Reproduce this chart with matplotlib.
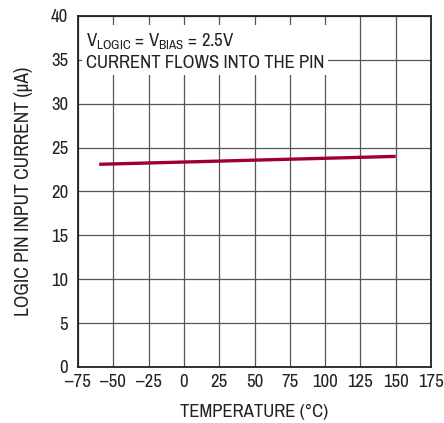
import matplotlib
matplotlib.use("Agg")
import matplotlib.pyplot as plt
from matplotlib import font_manager

names = {f.name for f in font_manager.fontManager.ttflist}
fam = "Liberation Sans"
for c in ["Liberation Sans Narrow", "Archivo Narrow", "Roboto Condensed"]:
    if c in names:
        fam = c
        break
plt.rcParams['font.family'] = [fam, 'DejaVu Sans']
plt.rcParams['mathtext.fontset'] = 'custom'
plt.rcParams['mathtext.rm'] = fam

temperature = [-60, 150]
current = [23.1, 24.0]
xticks = [-75, -50, -25, 0, 25, 50, 75, 100, 125, 150, 175]
yticks = [0, 5, 10, 15, 20, 25, 30, 35, 40]

FS = 13.5
fig = plt.figure(figsize=(4.44, 4.23), dpi=100)
ax = fig.add_axes([0.1757, 0.1324, 0.795, 0.8298])
ax.set_xlim(-75, 175)
ax.set_ylim(0, 40)
ax.set_xticks(xticks)
ax.set_xticklabels([str(t).replace('-', '\u2013') for t in xticks])
ax.set_yticks(yticks)
ax.grid(True, color='#555555', linewidth=0.9)
ax.tick_params(axis='x', length=0, labelsize=FS, pad=5, colors='#222222')
ax.tick_params(axis='y', length=0, labelsize=FS, pad=7, colors='#222222')
for s in ax.spines.values():
    s.set_linewidth(1.3)
    s.set_color('#222222')
ax.set_axisbelow(True)

ax.plot(temperature, current, color='#a0002e', linewidth=2.4, solid_capstyle='butt', zorder=3)

ax.set_xlabel('TEMPERATURE (\u00b0C)', fontsize=FS, color='#222222', labelpad=10)
ax.set_ylabel('LOGIC PIN INPUT CURRENT (\u00b5A)', fontsize=14, color='#222222', labelpad=13)

ax.text(-69.5, 38.2, r'V$_{\mathregular{LOGIC}}$ = V$_{\mathregular{BIAS}}$ = 2.5V' + '\nCURRENT FLOWS INTO THE PIN',
        fontsize=FS, va='top', ha='left', color='#222222', linespacing=1.2,
        bbox=dict(facecolor='white', edgecolor='none', pad=3), zorder=4)

fig.savefig('out.png', dpi=100)
